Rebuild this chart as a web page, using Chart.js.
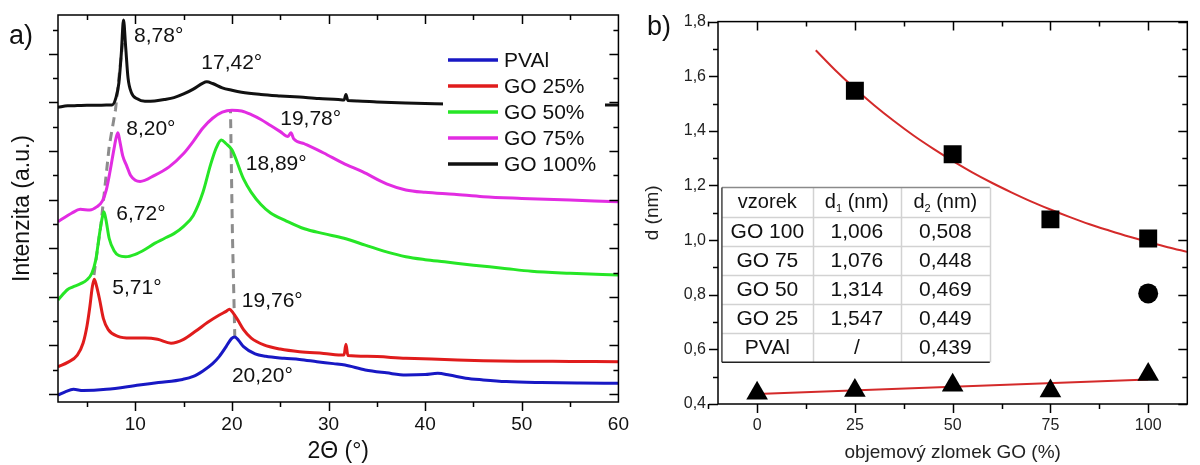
<!DOCTYPE html>
<html>
<head>
<meta charset="utf-8">
<script src="https://cdn.jsdelivr.net/npm/chart.js@4.4.1/dist/chart.umd.min.js"></script>
<style>
  body { margin: 0; background: #fff; width: 1200px; height: 465px; overflow: hidden; position: relative; }
  #pa { position: absolute; left: 0; top: 0; }
  #pb { position: absolute; left: 640px; top: 0; }
</style>
</head>
<body>
<canvas id="pa" width="640" height="465"></canvas>
<canvas id="pb" width="560" height="465"></canvas>
<script>
const FONT = "'Liberation Sans', Arial, sans-serif";

// ---- a) XRD patterns: 2θ (°) vs. intensity, curves stacked with an offset (a.u.)
const xrdSeries = ['PVAl', 'GO 25%', 'GO 50%', 'GO 75%', 'GO 100%'];
const xrdColors = ['#1818c4', '#e01c1c', '#26e626', '#e22ce2', '#111111'];
const xrdTicks = [10, 20, 30, 40, 50, 60];

const pvalX = [2, 2.8, 3.6, 4.6, 7, 10.4, 12.4, 14.9, 16, 17, 18, 18.7, 19.4, 19.95, 20.3, 20.7, 21.2, 22.4, 23.5, 25.4, 27, 28.8, 30.5, 31.7, 33.8, 36, 38, 40, 41.3, 42.5, 44.2, 46, 48.4, 52, 56, 60];
const pvalY = [-0.05, 0.1, 0.19, 0.14, 0.19, 0.37, 0.47, 0.6, 0.72, 0.95, 1.25, 1.55, 1.95, 2.28, 2.35, 2.2, 1.95, 1.65, 1.55, 1.47, 1.42, 1.33, 1.25, 1.19, 0.99, 0.87, 0.78, 0.8, 0.85, 0.78, 0.65, 0.58, 0.51, 0.47, 0.45, 0.44];

const go25X = [2, 3, 4, 4.6, 5.0, 5.3, 5.55, 5.75, 5.95, 6.3, 6.7, 7.2, 8.2, 9.5, 11, 12.3, 13.7, 15, 16.3, 17.5, 18.7, 19.4, 19.75, 20.1, 20.6, 21.2, 22, 23.3, 25, 27, 29.5, 31.6, 31.8, 32.0, 34, 38, 42, 46, 50, 55, 60];
const go25Y = [1.12, 1.3, 1.6, 2.1, 2.8, 3.6, 4.4, 4.72, 4.5, 3.9, 3.1, 2.65, 2.37, 2.3, 2.3, 2.25, 2.09, 2.25, 2.6, 2.95, 3.25, 3.4, 3.49, 3.35, 3.05, 2.65, 2.3, 2.02, 1.85, 1.74, 1.67, 1.6, 2.05, 1.58, 1.55, 1.47, 1.42, 1.37, 1.35, 1.34, 1.33];

const go50X = [2, 3, 3.5, 4.4, 5.0, 5.5, 5.9, 6.3, 6.6, 6.75, 6.95, 7.3, 7.8, 8.3, 9.0, 10, 11, 12, 13, 14, 15, 16, 17, 17.8, 18.4, 18.9, 19.4, 20, 21.2, 22, 23, 24, 25.5, 27.5, 29.5, 31.6, 33.8, 36, 38, 40, 42, 45, 48, 51, 55, 60];
const go50Y = [3.87, 4.3, 4.4, 4.55, 4.7, 4.97, 5.5, 6.6, 7.3, 7.5, 7.2, 6.4, 5.9, 5.7, 5.65, 5.75, 5.95, 6.2, 6.4, 6.6, 6.9, 7.35, 8.3, 9.45, 10.15, 10.45, 10.3, 10.05, 8.85, 8.3, 7.8, 7.45, 7.15, 6.8, 6.6, 6.41, 6.13, 5.85, 5.65, 5.53, 5.44, 5.3, 5.18, 5.05, 4.97, 4.9];

const go75X = [2, 3, 3.4, 4.3, 5.3, 6.0, 6.6, 7.0, 7.4, 7.8, 8.05, 8.2, 8.4, 8.7, 9.1, 9.5, 10, 10.5, 12, 13.5, 15, 16, 17, 18, 19, 20, 21, 22, 23, 24, 25, 25.8, 26.1, 26.4, 27.5, 29.5, 31.5, 33.5, 36, 38, 40, 43, 46, 50, 55, 60];
const go75Y = [7.09, 7.35, 7.44, 7.6, 7.57, 7.7, 7.95, 8.4, 9.2, 10.1, 10.6, 10.75, 10.4, 9.8, 9.4, 9.0, 8.8, 8.75, 9.0, 9.35, 9.9, 10.4, 10.95, 11.35, 11.6, 11.68, 11.65, 11.5, 11.3, 11.05, 10.8, 10.6, 10.75, 10.5, 10.3, 9.92, 9.5, 9.15, 8.65, 8.4, 8.3, 8.22, 8.12, 8.05, 7.98, 7.91];

const go100X = [2, 3, 4, 5, 6, 7, 7.6, 8.0, 8.3, 8.55, 8.78, 9.0, 9.25, 9.6, 10.2, 11, 12, 13, 14, 15, 16, 17, 17.4, 18, 19, 20, 21, 23, 25, 27, 29, 31, 31.6, 31.8, 32.0, 33, 35, 38, 41, 45, 50, 55, 60];
const go100Y = [11.8, 11.86, 11.87, 11.88, 11.88, 11.9, 11.9, 12.2, 12.8, 14.0, 15.39, 14.3, 13.0, 12.4, 12.15, 12.05, 12.06, 12.12, 12.2, 12.35, 12.55, 12.8, 12.85, 12.78, 12.6, 12.5, 12.42, 12.33, 12.27, 12.22, 12.16, 12.12, 12.1, 12.33, 12.08, 12.06, 12.02, 11.98, 11.95, 11.92, 11.9, 11.9, 11.9];

// grey dashed guides through the shifting peaks
const guideLowX = [5.72, 6.45, 7.3, 7.95, 8.75];
const guideLowY = [4.9, 7.0, 10.2, 11.7, 14.7];
const guideHighX = [20.3, 20.05, 19.85];
const guideHighY = [2.3, 6.6, 11.7];

const peakLabels = ['8,78°', '17,42°', '8,20°', '19,78°', '18,89°', '6,72°', '5,71°', '19,76°', '20,20°'];
const peakLabelX = [9.87, 16.83, 9.06, 25.0, 21.43, 8.03, 7.62, 21.02, 20.0];
const peakLabelY = [14.73, 13.62, 10.9, 11.32, 9.47, 7.41, 4.36, 3.83, 0.74];

// ---- b) interlayer spacing d vs. GO volume fraction
const goFraction = [0, 25, 50, 75, 100];
const d1X = [25, 50, 75, 100];
const d1 = [1.547, 1.314, 1.076, 1.006];
const d2 = [0.439, 0.449, 0.469, 0.448, 0.508];
const extraX = [100];
const extraY = [0.805];
const d1FitX = [15, 20, 25, 30, 35, 40, 45, 50, 55, 60, 65, 70, 75, 80, 85, 90, 95, 100, 105, 110];
const d1FitY = [1.695, 1.622, 1.555, 1.493, 1.436, 1.383, 1.335, 1.290, 1.248, 1.210, 1.175, 1.142, 1.112, 1.084, 1.058, 1.035, 1.013, 0.993, 0.974, 0.957];
const d2FitX = [0, 100];
const d2FitY = [0.437, 0.490];
const dXTicks = [0, 25, 50, 75, 100];
const dYTicks = [0.4, 0.6, 0.8, 1.0, 1.2, 1.4, 1.6, 1.8];

const tableHead = ['vzorek', 'd₁ (nm)', 'd₂ (nm)'];
const tableRows = [
  ['GO 100', '1,006', '0,508'],
  ['GO 75', '1,076', '0,448'],
  ['GO 50', '1,314', '0,469'],
  ['GO 25', '1,547', '0,449'],
  ['PVAl', '/', '0,439']
];

Chart.defaults.font.family = FONT;
Chart.defaults.color = '#111';
Chart.defaults.animation = false;

function pts(xs, ys) {
  return xs.map((v, i) => ({ x: v, y: ys[i] }));
}

// Origin-style box with major/minor ticks (out on bottom/left, in on top/right)
function boxTicks(cfg) {
  return {
    id: 'boxTicks',
    afterDraw(chart) {
      const { ctx, chartArea: a, scales: { x, y } } = chart;
      ctx.save();
      ctx.strokeStyle = '#000';
      ctx.lineWidth = 1.5;
      ctx.strokeRect(a.left, a.top, a.right - a.left, a.bottom - a.top);
      ctx.beginPath();
      const xt = (vals, len) => vals.forEach(v => {
        const p = Math.round(x.getPixelForValue(v)) + 0.5;
        ctx.moveTo(p, a.bottom); ctx.lineTo(p, a.bottom + len);
        ctx.moveTo(p, a.top); ctx.lineTo(p, a.top + len);
      });
      const yt = (vals, len) => vals.forEach(v => {
        const p = Math.round(y.getPixelForValue(v)) + 0.5;
        ctx.moveTo(a.left, p); ctx.lineTo(a.left - len, p);
        ctx.moveTo(a.right, p); ctx.lineTo(a.right - len, p);
      });
      xt(cfg.xMajor, 9); xt(cfg.xMinor, 5);
      yt(cfg.yMajor, 9); yt(cfg.yMinor, 5);
      ctx.stroke();
      ctx.font = cfg.panelFont;
      ctx.fillStyle = '#111';
      ctx.textBaseline = 'middle';
      ctx.fillText(cfg.panel, cfg.panelX, cfg.panelY);
      ctx.restore();
    }
  };
}

const xrdDecor = {
  id: 'xrdDecor',
  afterDatasetsDraw(chart) {
    const { ctx, scales: { x, y } } = chart;
    ctx.save();
    ctx.font = `21px ${FONT}`;
    ctx.textAlign = 'left';
    ctx.textBaseline = 'middle';
    ctx.fillStyle = '#111';
    peakLabels.forEach((t, i) => {
      ctx.fillText(t, x.getPixelForValue(peakLabelX[i]), y.getPixelForValue(peakLabelY[i]));
    });
    // legend with a white background, sitting over the GO 100% tail
    ctx.fillStyle = '#fff';
    ctx.fillRect(443, 45, 162, 132);
    xrdSeries.forEach((s, i) => {
      const yy = 60 + i * 26;
      ctx.strokeStyle = xrdColors[i];
      ctx.lineWidth = 3.5;
      ctx.beginPath();
      ctx.moveTo(448, yy);
      ctx.lineTo(498, yy);
      ctx.stroke();
      ctx.fillStyle = '#111';
      ctx.fillText(s, 504, yy + 1);
    });
    ctx.restore();
  }
};

const curveSets = [[pvalX, pvalY], [go25X, go25Y], [go50X, go50Y], [go75X, go75Y], [go100X, go100Y]];
const xrdDatasets = curveSets.map(([xs, ys], i) => ({
  label: xrdSeries[i],
  data: pts(xs, ys),
  borderColor: xrdColors[i],
  borderWidth: 3,
  pointRadius: 0,
  cubicInterpolationMode: 'monotone',
  fill: false
}));
[[guideLowX, guideLowY], [guideHighX, guideHighY]].forEach(([xs, ys]) => {
  xrdDatasets.push({
    label: 'guide',
    data: pts(xs, ys),
    borderColor: '#8c8c8c',
    borderWidth: 3,
    borderDash: [9, 6],
    pointRadius: 0,
    fill: false
  });
});

new Chart(document.getElementById('pa'), {
  type: 'line',
  data: { datasets: xrdDatasets },
  options: {
    responsive: false,
    layout: { padding: { left: 0, right: 14, top: 15, bottom: 0 } },
    plugins: { legend: { display: false }, tooltip: { enabled: false } },
    scales: {
      x: {
        type: 'linear', min: 2, max: 60,
        afterBuildTicks: s => { s.ticks = xrdTicks.map(v => ({ value: v })); },
        afterFit: s => { s.height = 63; },
        grid: { display: false, drawTicks: false },
        border: { display: false },
        ticks: { font: { size: 19 }, color: '#111', padding: 11 },
        title: { display: true, text: '2Θ (°)', font: { size: 23 }, color: '#111', padding: { top: 0, bottom: 0 } }
      },
      y: {
        type: 'linear', min: -0.33, max: 15.6,
        afterFit: s => { s.width = 58; },
        grid: { display: false, drawTicks: false },
        border: { display: false },
        ticks: { display: false },
        title: { display: true, text: 'Intenzita (a.u.)', font: { size: 23 }, color: '#111', padding: { top: 9, bottom: 0 } }
      }
    }
  },
  plugins: [xrdDecor, boxTicks({
    xMajor: [10, 20, 30, 40, 50], xMinor: [5, 15, 25, 35, 45, 55],
    yMajor: [0, 2, 4, 6, 8, 10, 12, 14], yMinor: [1, 3, 5, 7, 9, 11, 13, 15],
    panel: 'a)', panelFont: `27px ${FONT}`, panelX: 9, panelY: 37
  })]
});

// draws "d₁ (nm)" with a real lowered subscript digit
function drawSubText(ctx, text, cx, cy, size) {
  const subs = { '₁': '1', '₂': '2' };
  const parts = [...text].map(ch => subs[ch] ? { t: subs[ch], sub: true } : { t: ch, sub: false });
  const width = p => { ctx.font = `${p.sub ? Math.round(size * 0.55) : size}px ${FONT}`; return ctx.measureText(p.t).width; };
  const total = parts.reduce((w, p) => w + width(p), 0);
  let xx = cx - total / 2;
  ctx.textAlign = 'left';
  parts.forEach(p => {
    const w = width(p);
    ctx.fillText(p.t, xx, p.sub ? cy + size * 0.3 : cy);
    xx += w;
  });
}

const goTable = {
  id: 'goTable',
  afterDatasetsDraw(chart) {
    const { ctx, scales: { x, y } } = chart;
    const L = x.getPixelForValue(-9), R = x.getPixelForValue(59.5);
    const T = y.getPixelForValue(1.193), B = y.getPixelForValue(0.553);
    const rows = [tableHead, ...tableRows];
    const rh = (B - T) / rows.length;
    const cols = [L, L + (R - L) * 0.339, L + (R - L) * 0.668, R];
    ctx.save();
    ctx.fillStyle = '#fff';
    ctx.fillRect(L, T, R - L, B - T);
    ctx.strokeStyle = '#d2d2d2';
    ctx.lineWidth = 1.5;
    ctx.beginPath();
    for (let i = 1; i < rows.length; i++) {
      const yy = Math.round(T + i * rh) + 0.5;
      ctx.moveTo(L, yy); ctx.lineTo(R, yy);
    }
    [cols[1], cols[2], R].forEach(c => { ctx.moveTo(Math.round(c) + 0.5, T); ctx.lineTo(Math.round(c) + 0.5, B); });
    ctx.stroke();
    ctx.strokeStyle = '#8a8a8a';
    ctx.beginPath(); ctx.moveTo(L, T); ctx.lineTo(R, T); ctx.stroke();
    ctx.strokeStyle = '#444';
    ctx.beginPath(); ctx.moveTo(L, T); ctx.lineTo(L, B); ctx.stroke();
    ctx.strokeStyle = '#222';
    ctx.beginPath(); ctx.moveTo(L, B); ctx.lineTo(R, B); ctx.stroke();
    ctx.fillStyle = '#111';
    ctx.textBaseline = 'middle';
    rows.forEach((row, r) => {
      const cy = T + (r + 0.5) * rh + 1;
      row.forEach((cell, c) => {
        const cx = (cols[c] + cols[c + 1]) / 2;
        if (r === 0) {
          drawSubText(ctx, cell, cx, cy, 20);
        } else {
          ctx.font = `21px ${FONT}`;
          ctx.textAlign = 'center';
          ctx.fillText(cell, cx, cy);
        }
      });
    });
    ctx.restore();
  }
};

const fmtComma = v => v.toFixed(1).replace('.', ',');

new Chart(document.getElementById('pb'), {
  type: 'line',
  data: {
    datasets: [
      { label: 'd1', data: pts(d1X, d1), showLine: false, pointStyle: 'rect', pointRadius: 12.7, backgroundColor: '#000', borderWidth: 0 },
      { label: 'd', data: pts(extraX, extraY), showLine: false, pointStyle: 'circle', pointRadius: 10, backgroundColor: '#000', borderWidth: 0 },
      { label: 'd2', data: pts(goFraction, d2), showLine: false, pointStyle: 'triangle', pointRadius: 12.5, backgroundColor: '#000', borderWidth: 0 },
      { label: 'd1 fit', data: pts(d1FitX, d1FitY), borderColor: '#d42a2a', borderWidth: 2, pointRadius: 0, cubicInterpolationMode: 'monotone', fill: false },
      { label: 'd2 fit', data: pts(d2FitX, d2FitY), borderColor: '#d42a2a', borderWidth: 2, pointRadius: 0, fill: false }
    ]
  },
  options: {
    responsive: false,
    layout: { padding: { left: 0, right: 2, top: 19, bottom: 0 } },
    plugins: { legend: { display: false }, tooltip: { enabled: false } },
    scales: {
      x: {
        type: 'linear', min: -10, max: 110,
        afterBuildTicks: s => { s.ticks = dXTicks.map(v => ({ value: v })); },
        afterFit: s => { s.height = 61; },
        grid: { display: false, drawTicks: false },
        border: { display: false },
        ticks: { font: { size: 16 }, color: '#222', padding: 12 },
        title: { display: true, text: 'objemový zlomek GO (%)', font: { size: 19 }, color: '#222', padding: { top: 0, bottom: 1 } }
      },
      y: {
        type: 'linear', min: 0.4, max: 1.8,
        afterBuildTicks: s => { s.ticks = dYTicks.map(v => ({ value: v })); },
        afterFit: s => { s.width = 78; },
        grid: { display: false, drawTicks: false },
        border: { display: false },
        ticks: { font: { size: 16 }, color: '#222', padding: 12, callback: v => fmtComma(v) },
        title: { display: true, text: 'd (nm)', font: { size: 19 }, color: '#222', padding: { top: 1, bottom: 0 } }
      }
    }
  },
  plugins: [goTable, boxTicks({
    xMajor: [0, 25, 50, 75, 100], xMinor: [-12.5, 12.5, 37.5, 62.5, 87.5],
    yMajor: dYTicks, yMinor: [0.5, 0.7, 0.9, 1.1, 1.3, 1.5, 1.7],
    panel: 'b)', panelFont: `27px ${FONT}`, panelX: 7, panelY: 28
  })]
});
</script>
</body>
</html>
